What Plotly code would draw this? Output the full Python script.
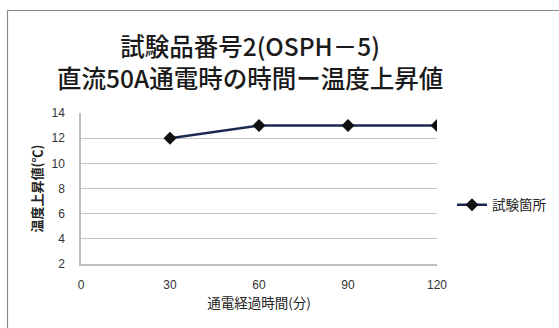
import plotly.graph_objects as go

# Elapsed energizing time (min) and temperature rise (°C)
elapsed_min = [30, 60, 90, 120]
temp_rise = [12, 13, 13, 13]
series_name = "試験箇所"

x_ticks = [0, 30, 60, 90, 120]
y_ticks = [2, 4, 6, 8, 10, 12, 14]

title_lines = ["試験品番号2(OSPH－5)", "直流50A通電時の時間ー温度上昇値"]
x_title = "通電経過時間(分)"
y_title = "温度上昇値(℃)"

W, H = 559, 328
L, R, T, B = 81, 122, 113, 64
pw, ph = W - L - R, H - T - B

def px_x(p):
    return (p - L) / pw

def px_y(p):
    return (H - B - p) / ph

font_cjk = "Noto Sans CJK JP"

fig = go.Figure()
fig.add_trace(go.Scatter(
    x=elapsed_min, y=temp_rise, name=series_name,
    mode="lines+markers",
    line=dict(color="#1c2850", width=2.5),
    marker=dict(symbol="diamond", size=10, color="#111111"),
))

# two-line chart title as one text block
title_note = dict(
    text="<br>".join(title_lines), xref="paper", yref="paper",
    x=px_x(250), y=px_y(61), xanchor="center", yanchor="middle",
    showarrow=False, align="center",
    font=dict(family=font_cjk, size=24.5, color="#1a1a1a", weight=500),
)

fig.update_layout(
    width=W, height=H,
    margin=dict(l=L, r=R, t=T, b=B, autoexpand=False),
    paper_bgcolor="white", plot_bgcolor="white",
    font=dict(family="Liberation Sans, Arial, sans-serif", size=12, color="#333333"),
    annotations=[title_note],
    showlegend=True,
    legend=dict(
        x=px_x(452), y=px_y(205), xanchor="left", yanchor="middle",
        font=dict(family=font_cjk, size=13.5, color="#222222"),
        bgcolor="rgba(0,0,0,0)",
        itemwidth=30,
    ),
    xaxis=dict(
        range=[0, 120], tickvals=x_ticks, ticktext=[str(v) for v in x_ticks],
        showgrid=False, zeroline=False,
        showline=True, linecolor="#bdbdbd", linewidth=1.5,
        ticks="outside", ticklen=9, tickcolor="rgba(0,0,0,0)",
        tickfont=dict(size=12, color="#333333"),
        title=dict(text=x_title, font=dict(family=font_cjk, size=13.5, color="#222222"), standoff=2),
        fixedrange=True, automargin=False,
    ),
    yaxis=dict(
        range=[2, 14], tickvals=y_ticks, ticktext=[str(v) for v in y_ticks],
        showgrid=True, gridcolor="#c4c4c4", gridwidth=1.2, zeroline=False,
        showline=True, linecolor="#bdbdbd", linewidth=1.5,
        ticks="outside", ticklen=12, tickcolor="rgba(0,0,0,0)",
        tickfont=dict(size=12, color="#333333"),
        title=dict(text=y_title, font=dict(family=font_cjk, size=13, color="#222222", weight="bold"), standoff=6),
        fixedrange=True, automargin=False,
    ),
    shapes=[
        dict(type="line", xref="paper", yref="paper",
             x0=px_x(7.5), x1=px_x(W + 50), y0=px_y(10.5), y1=px_y(10.5),
             line=dict(color="#8a8a8a", width=1.2), layer="below"),
        dict(type="line", xref="paper", yref="paper",
             x0=px_x(7.5), x1=px_x(7.5), y0=px_y(10.5), y1=px_y(H + 50),
             line=dict(color="#8a8a8a", width=1.2), layer="below"),
    ],
)

fig.write_html("out.html")
